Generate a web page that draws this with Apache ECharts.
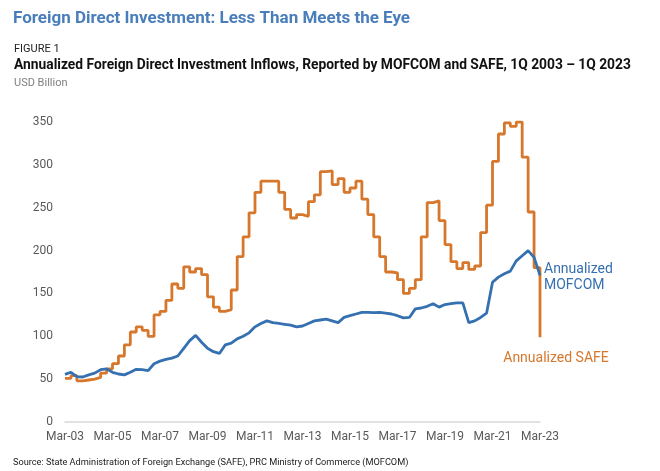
<!DOCTYPE html>
<html>
<head>
<meta charset="utf-8">
<script src="https://cdn.jsdelivr.net/npm/echarts@6/dist/echarts.min.js"></script>
<style>
html,body{margin:0;padding:0;background:#fff;}
#chart{width:660px;height:471px;}
</style>
</head>
<body>
<div id="chart"></div>
<script>
const quarters = [
'Mar-03','Jun-03','Sep-03','Dec-03','Mar-04','Jun-04','Sep-04','Dec-04',
'Mar-05','Jun-05','Sep-05','Dec-05','Mar-06','Jun-06','Sep-06','Dec-06',
'Mar-07','Jun-07','Sep-07','Dec-07','Mar-08','Jun-08','Sep-08','Dec-08',
'Mar-09','Jun-09','Sep-09','Dec-09','Mar-10','Jun-10','Sep-10','Dec-10',
'Mar-11','Jun-11','Sep-11','Dec-11','Mar-12','Jun-12','Sep-12','Dec-12',
'Mar-13','Jun-13','Sep-13','Dec-13','Mar-14','Jun-14','Sep-14','Dec-14',
'Mar-15','Jun-15','Sep-15','Dec-15','Mar-16','Jun-16','Sep-16','Dec-16',
'Mar-17','Jun-17','Sep-17','Dec-17','Mar-18','Jun-18','Sep-18','Dec-18',
'Mar-19','Jun-19','Sep-19','Dec-19','Mar-20','Jun-20','Sep-20','Dec-20',
'Mar-21','Jun-21','Sep-21','Dec-21','Mar-22','Jun-22','Sep-22','Dec-22',
'Mar-23'];

const safeAnnualized = [
51,54,48,49,50,52,57,62,68,77,
90,105,111,107,100,125,129,142,161,156,
181,175,179,172,146,134,129,131,154,193,
216,244,268,281,281,281,268,248,238,242,
240,257,265,292,293,277,284,268,273,281,
260,242,216,193,175,174,166,150,156,166,
216,256,258,235,207,187,179,186,178,182,
221,253,304,336,349,345,350,309,245,180,
99];

const mofcomAnnualized = [
55.5,58,53,52.5,55,57,61,62,58,56,
55,58,61.5,61,60,68,71,73,74.5,77,
86,95,101,93,86,82,80,90,92,97,
100,104,111,115,118,116,115,114,113,111,
112,115,118,119,120,118,116,122,124,126,
128,128,127.5,128,127,126,124,121.5,122,132,
133,135,138,134,137,138,139,139,116,118,
122,127,163,169,173,176,188,194,200,192,
171];

const yTicks = {min: 0, max: 350, interval: 50};

const BLUE = '#3570b0';
const ORANGE = '#d6772c';
const FONT = 'Roboto';

const chart = echarts.init(document.getElementById('chart'), null, {renderer: 'canvas'});
chart.setOption({
  animation: false,
  backgroundColor: '#fff',
  textStyle: {fontFamily: FONT},
  title: [
    {text: 'Foreign Direct Investment: Less Than Meets the Eye', left: 8, top: 5,
     textStyle: {fontFamily: FONT, fontSize: 17, fontWeight: 'bold', color: '#4a7ebb'}},
    {text: 'FIGURE 1', left: 9, top: 39,
     textStyle: {fontFamily: FONT, fontSize: 11, fontWeight: 'normal', color: '#222'}},
    {text: 'Annualized Foreign Direct Investment Inflows, Reported by MOFCOM and SAFE, 1Q 2003 \u2013 1Q 2023', left: 9, top: 54,
     textStyle: {fontFamily: FONT, fontSize: 13.8, fontWeight: 'bold', color: '#111'}},
    {text: 'USD Billion', left: 9, top: 73,
     textStyle: {fontFamily: FONT, fontSize: 11, fontWeight: 'normal', color: '#808080'}},
    {text: 'Source: State Administration of Foreign Exchange (SAFE), PRC Ministry of Commerce (MOFCOM)', left: 8, top: 453,
     textStyle: {fontFamily: FONT, fontSize: 9.2, fontWeight: 'normal', color: '#222'}}
  ],
  grid: {left: 65, right: 120, top: 122, bottom: 49, containLabel: false},
  xAxis: {
    type: 'category',
    data: quarters,
    boundaryGap: false,
    axisLine: {show: true, lineStyle: {color: '#d9d9d9', width: 1.5}},
    axisTick: {show: false},
    axisLabel: {interval: 7, color: '#595959', fontSize: 12, margin: 9, fontFamily: FONT},
    splitLine: {show: false}
  },
  yAxis: {
    type: 'value',
    min: yTicks.min, max: yTicks.max, interval: yTicks.interval,
    axisLine: {show: false},
    axisTick: {show: false},
    splitLine: {show: false},
    axisLabel: {color: '#595959', fontSize: 12, margin: 12, fontFamily: FONT}
  },
  series: [
    {
      name: 'Annualized SAFE',
      type: 'line',
      data: safeAnnualized,
      step: 'end',
      showSymbol: false,
      lineStyle: {color: ORANGE, width: 2.8},
      itemStyle: {color: ORANGE},
      z: 2,
      endLabel: {
        show: true,
        formatter: 'Annualized SAFE',
        color: ORANGE,
        fontSize: 14,
        fontFamily: FONT,
        align: 'center',
        verticalAlign: 'middle',
        offset: [8, 21]
      }
    },
    {
      name: 'Annualized MOFCOM',
      type: 'line',
      data: mofcomAnnualized,
      showSymbol: false,
      lineStyle: {color: BLUE, width: 2.8},
      itemStyle: {color: BLUE},
      z: 3,
      endLabel: {
        show: true,
        formatter: 'Annualized\nMOFCOM',
        color: BLUE,
        fontSize: 14,
        lineHeight: 16,
        fontFamily: FONT,
        align: 'left',
        verticalAlign: 'middle',
        offset: [-4, 2]
      }
    }
  ]
});
</script>
</body>
</html>
